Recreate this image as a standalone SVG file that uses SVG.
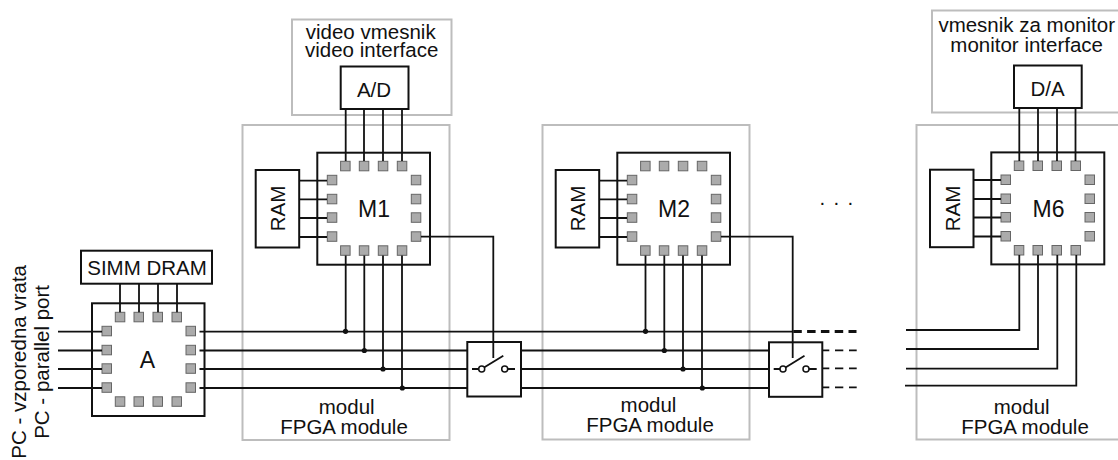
<svg xmlns="http://www.w3.org/2000/svg" xmlns:xlink="http://www.w3.org/1999/xlink" width="1118" height="460" viewBox="0 0 1118 460">
<style>
text{font-family:"Liberation Sans",Arial,sans-serif;font-size:20.5px;fill:#111;text-anchor:middle}
.big{font-size:23px}
.gray{fill:none;stroke:#bdbdbd;stroke-width:2}
.box{fill:#fff;stroke:#111;stroke-width:2}
.pad{fill:#ababab;stroke:#666;stroke-width:1}
.w{fill:none;stroke:#111;stroke-width:1.8}
.dot{fill:#111}
.c{fill:#fff;stroke:#111;stroke-width:1.5}
</style>
<defs>
<g id="padset">
<rect class="pad" x="23.300" y="9" width="9.500" height="9.500"/><rect class="pad" x="42" y="9" width="9.500" height="9.500"/><rect class="pad" x="61" y="9" width="9.500" height="9.500"/><rect class="pad" x="80" y="9" width="9.500" height="9.500"/>
<rect class="pad" x="23.300" y="93.500" width="9.500" height="9.500"/><rect class="pad" x="42" y="93.500" width="9.500" height="9.500"/><rect class="pad" x="61" y="93.500" width="9.500" height="9.500"/><rect class="pad" x="80" y="93.500" width="9.500" height="9.500"/>
<rect class="pad" x="10" y="23" width="9.500" height="9.500"/><rect class="pad" x="10" y="42" width="9.500" height="9.500"/><rect class="pad" x="10" y="60.500" width="9.500" height="9.500"/><rect class="pad" x="10" y="79.500" width="9.500" height="9.500"/>
<rect class="pad" x="94" y="23" width="9.500" height="9.500"/><rect class="pad" x="94" y="42" width="9.500" height="9.500"/><rect class="pad" x="94" y="60.500" width="9.500" height="9.500"/><rect class="pad" x="94" y="79.500" width="9.500" height="9.500"/>
</g>
</defs>
<g id="module-1"><rect class="gray" x="242.500" y="125" width="207" height="315"/><text><tspan x="346.700" y="414">modul</tspan><tspan x="344" y="434">FPGA module</tspan></text></g>
<g id="module-2"><rect class="gray" x="542.500" y="125" width="207" height="314.500"/><text><tspan x="648.500" y="412">modul</tspan><tspan x="650" y="432">FPGA module</tspan></text></g>
<g id="module-6"><rect class="gray" x="916.500" y="125" width="220" height="314.500"/><text><tspan x="1021.700" y="414">modul</tspan><tspan x="1025" y="433.500">FPGA module</tspan></text></g>
<g id="video-interface"><rect class="gray" x="292" y="19.500" width="159.500" height="95.500"/><text><tspan x="370.700" y="39.300">video vmesnik</tspan><tspan x="371.700" y="57">video interface</tspan></text></g>
<g id="monitor-interface"><rect class="gray" x="932" y="10.500" width="220" height="102"/><text><tspan x="1026.700" y="32">vmesnik za monitor</tspan><tspan x="1026.700" y="52">monitor interface</tspan></text></g>
<g id="simm"><rect class="box" x="81" y="250.700" width="131" height="33"/><text x="147" y="274.500">SIMM DRAM</text></g>
<g id="chip-a"><rect class="box" x="92" y="303.300" width="112.500" height="112.700"/><use xlink:href="#padset" x="92" y="303.300"/><text class="big" x="147.500" y="368">A</text></g>
<g id="chip-m1"><rect class="box" x="317.300" y="152.700" width="112.700" height="112"/><use xlink:href="#padset" x="317.300" y="152.300"/><text class="big" x="374" y="216.500">M1</text></g>
<g id="chip-m2"><rect class="box" x="617.300" y="152.700" width="112.700" height="112"/><use xlink:href="#padset" x="617.300" y="152.300"/><text class="big" x="674" y="216.500">M2</text></g>
<g id="chip-m6"><rect class="box" x="991.300" y="152.400" width="113" height="112"/><use xlink:href="#padset" x="991" y="152"/><text class="big" x="1048.500" y="216.500">M6</text></g>
<g id="ram-1"><rect class="box" x="255.700" y="170" width="43.500" height="77.500"/><text transform="translate(285 208.500) rotate(-90)">RAM</text></g>
<g id="ram-2"><rect class="box" x="555.700" y="170" width="43.500" height="77.500"/><text transform="translate(585 208.500) rotate(-90)">RAM</text></g>
<g id="ram-6"><rect class="box" x="930" y="169.700" width="43.500" height="77.500"/><text transform="translate(959.500 208.500) rotate(-90)">RAM</text></g>
<g id="ad"><rect class="box" x="340.700" y="66.500" width="67.800" height="42.500"/><text x="374" y="96.500">A/D</text></g>
<g id="da"><rect class="box" x="1014" y="65.500" width="67.700" height="42.500"/><text x="1047.500" y="96">D/A</text></g>
<g id="switch-1"><rect class="box" x="467.300" y="342" width="53.700" height="54.500"/><path class="w" d="M472 369H478.700M507.700 369H515M484 367.500L503.300 355.700"/><circle class="c" cx="481.700" cy="369" r="3"/><circle class="c" cx="504.700" cy="369" r="3"/></g>
<g id="switch-2"><rect class="box" x="769" y="342.300" width="53.300" height="54.500"/><path class="w" d="M773.700 369H780M809 369H816.700M785.500 367.500L804.500 355.700"/><circle class="c" cx="783" cy="369" r="3"/><circle class="c" cx="806" cy="369" r="3"/></g>
<g id="labels"><text transform="translate(26 265) rotate(-90)" style="text-anchor:end">PC - vzporedna vrata</text><text transform="translate(49 285) rotate(-90)" style="text-anchor:end">PC - parallel port</text><text x="819.500" y="204.500" style="letter-spacing:1.300px;text-anchor:start">. . .</text></g>
<g id="connectors">
<path class="w" d="M120 283.700V312.300M139 283.700V312.300M158 283.700V312.300M177 283.700V312.300"/>
<path class="w" d="M58 331.700H102M58 350.500H102M58 369H102M58 388H102"/>
<path class="w" d="M199.500 331.700H793M199.500 350.500H467.300M199.500 369H467.300M199.500 388H467.300"/>
<path class="w" d="M345.700 109V161M364 109V161M383 109V161M402 109V161"/>
<path class="w" d="M299 180.700H327M299 199.300H327M299 218H327M299 237H327"/>
<path class="w" d="M345.700 255.500V331.700M364.300 255.500V350.500M383 255.500V369M402 255.500V388"/>
<path class="w" d="M421 236.700H493.300V358"/>
<path class="w" d="M521 350.500H769M521 369H769M521 388H769"/>
<path class="w" d="M599 180.700H627M599 199.300H627M599 218H627M599 237H627"/>
<path class="w" d="M645.500 255.500V331.700M664.300 255.500V350.500M683 255.500V369M702 255.500V388"/>
<path class="w" d="M721 236.700H792.700V358"/>
<path d="M793.300 331.500H856.500" fill="none" stroke="#111" stroke-width="3" stroke-dasharray="8.500 5.300"/>
<path class="w" d="M822.300 350.300H829.300M822.300 368.300H829.300M822.300 387.300H829.300M835 350.300H843.300M849 350.300H856.700M835 368.300H843.300M849 368.300H856.700M835 387.300H843.300M849 387.300H856.700"/>
<path class="w" d="M1019.300 108V161M1038 108V161M1057 108V161M1075.500 108V161"/>
<path class="w" d="M973.500 180H1001M973.500 199H1001M973.500 217.500H1001M973.500 236.500H1001"/>
<path class="w" d="M906 330H1019.300V255M906 349H1038V255M906 368.700H1057.300V255M905 385.700H1076.300V255"/>
<circle class="dot" cx="345.500" cy="331.300" r="2.600"/><circle class="dot" cx="364.300" cy="350.500" r="2.600"/><circle class="dot" cx="383" cy="369" r="2.600"/><circle class="dot" cx="402.300" cy="388" r="2.600"/>
<circle class="dot" cx="645.500" cy="331.300" r="2.600"/><circle class="dot" cx="664.300" cy="350.500" r="2.600"/><circle class="dot" cx="683" cy="369" r="2.600"/><circle class="dot" cx="702.300" cy="388" r="2.600"/>
</g>
</svg>
